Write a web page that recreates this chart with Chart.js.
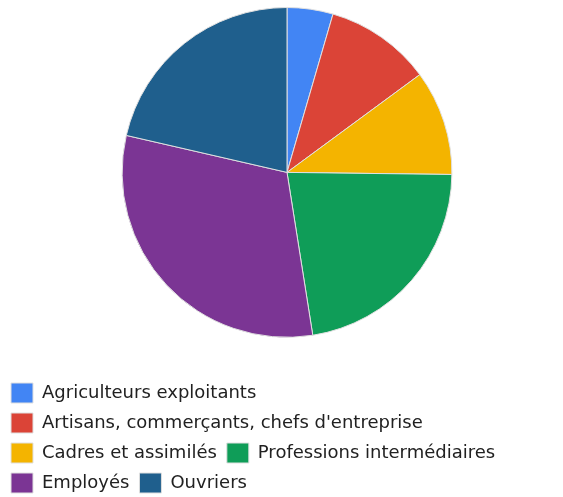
<!DOCTYPE html>
<html><head><meta charset="utf-8">
<script src="https://cdn.jsdelivr.net/npm/chart.js@4/dist/chart.umd.min.js"></script>
<style>html,body{margin:0;padding:0;background:#fff}#wrap{width:563px;height:497px}</style>
</head><body><div id="wrap"><canvas id="c"></canvas></div>
<script>
const categories = ["Agriculteurs exploitants","Artisans, commerçants, chefs d'entreprise","Cadres et assimilés","Professions intermédiaires","Employés","Ouvriers"];
const values = [4.5, 10.4, 10.3, 22.3, 31.1, 21.4];
const colors = ["#4285F4","#DB4437","#F4B400","#0F9D58","#7B3594","#1F5F8D"];
const shiftArea = { id: 'shiftArea', afterLayout(chart) { chart.chartArea.left += 5; chart.chartArea.right += 5; } };
new Chart(document.getElementById('c'), {
  type: 'pie',
  data: { labels: categories, datasets: [{ data: values, backgroundColor: colors, borderColor: '#e0e0e0', borderWidth: 1 }] },
  options: {
    responsive: true, maintainAspectRatio: false, animation: false,
    layout: { padding: { top: 7, bottom: -6, left: 1, right: 0 } },
    plugins: {
      tooltip: { enabled: false },
      legend: { position: 'bottom', align: 'start',
        title: { display: true, text: ' ', font: { size: 1 }, padding: { top: 34, bottom: 0 } },
        labels: { boxWidth: 22, boxHeight: 20, padding: 10, color: '#212121', font: { family: 'DejaVu Sans', size: 18 } } }
    }
  },
  plugins: [shiftArea]
});
</script></body></html>
